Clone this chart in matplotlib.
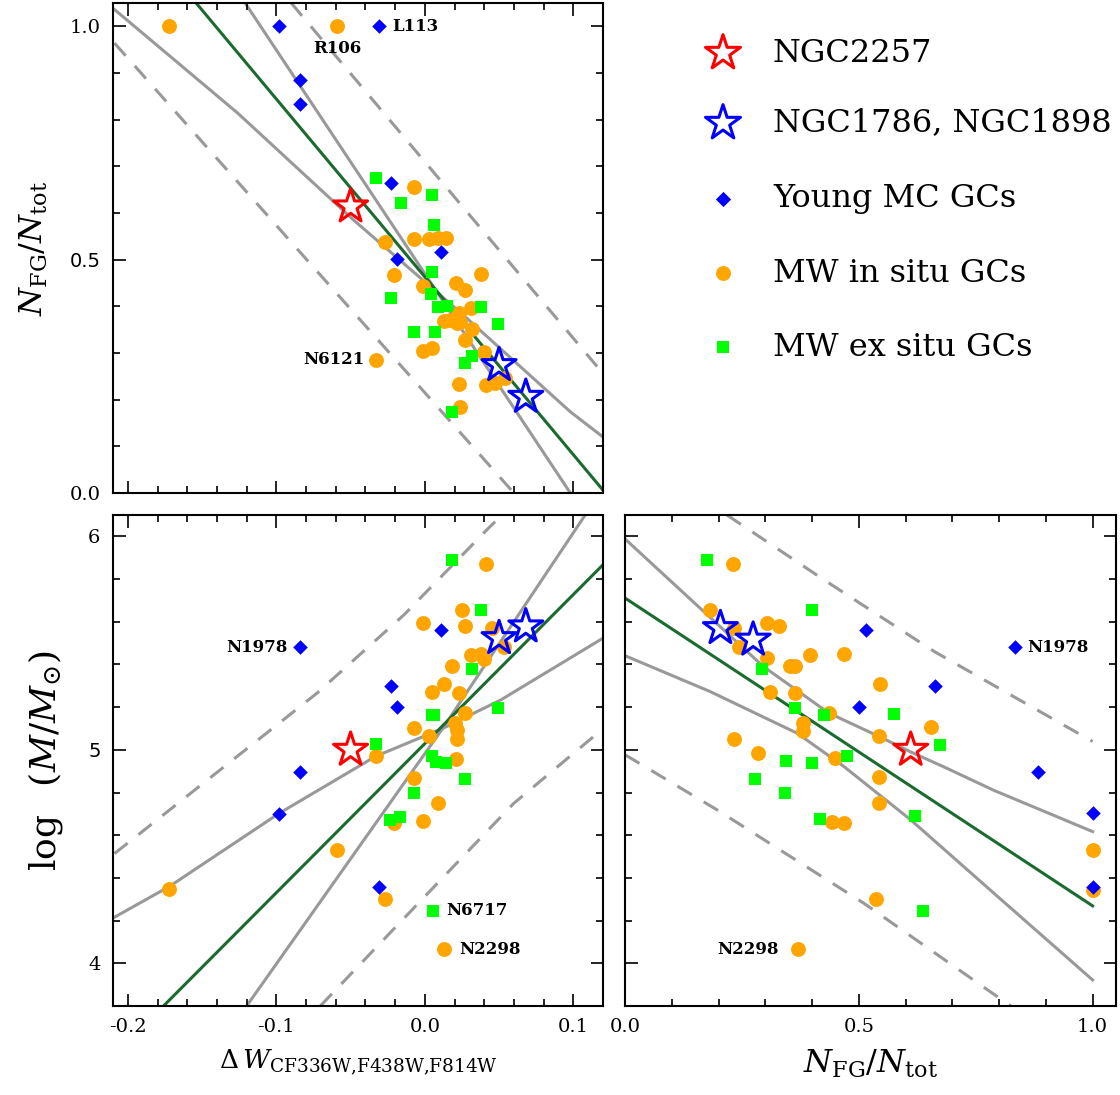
"""
Three-panel scatter: dW vs N_FG/N_tot, dW vs log M, N_FG/N_tot vs log M
"""
import matplotlib
matplotlib.use("Agg")
import matplotlib.pyplot as plt
from matplotlib.ticker import MultipleLocator

plt.rcParams["font.family"] = "DejaVu Serif"
plt.rcParams["mathtext.fontset"] = "dejavuserif"
plt.rcParams["axes.unicode_minus"] = False

ORANGE = "#FFA500"
LIME = "#00FF00"
BLUE = "#0000FF"
RED = "#FF0000"
FIT = "#1B6B2F"
BAND = "#999999"

# ── top panel: dW vs N_FG/N_tot ────────────────────────────────────────────
insitu_dw_top = [-0.172, -0.059, -0.007, -0.027, -0.007, 0.003, 0.009, 0.014, -0.021, 0.038,
                 0.021, 0.027, -0.001, 0.031, 0.023, 0.013, 0.017, 0.022, 0.024, 0.032,
                 0.027, 0.040, -0.001, 0.005, -0.033, 0.023, 0.041, 0.047, 0.054, 0.024]
insitu_f_top = [1.0, 1.0, 0.655, 0.537, 0.544, 0.544, 0.546, 0.547, 0.467, 0.469,
                0.451, 0.435, 0.444, 0.396, 0.385, 0.369, 0.370, 0.365, 0.367, 0.351,
                0.328, 0.303, 0.304, 0.310, 0.285, 0.233, 0.232, 0.236, 0.246, 0.185]
exsitu_dw_top = [-0.033, 0.005, -0.016, 0.006, 0.005, -0.023, 0.004, 0.009, 0.015, 0.038,
                 0.049, -0.007, 0.007, 0.032, 0.027, 0.018]
exsitu_f_top = [0.675, 0.639, 0.622, 0.575, 0.474, 0.417, 0.426, 0.398, 0.400, 0.399,
                0.362, 0.344, 0.344, 0.293, 0.278, 0.174]
young_dw_top = [-0.098, -0.031, -0.084, -0.084, -0.023, 0.011, -0.019]
young_f_top = [1.0, 1.0, 0.884, 0.834, 0.664, 0.517, 0.501]
red_dw, red_f, red_logm = -0.050, 0.614, 5.00
blue_dw = [0.050, 0.068]
blue_f_top = [0.274, 0.206]

fit_top_x, fit_top_y = [-0.154, 0.120], [1.05, 0.006]
band_top_a_x = [-0.209, -0.126, -0.048, 0.026, 0.098, 0.120]
band_top_a_y = [1.036, 0.814, 0.585, 0.381, 0.174, 0.120]
band_top_b_x, band_top_b_y = [-0.121, 0.098], [1.05, 0.0]
pred_top_hi_x, pred_top_hi_y = [-0.090, 0.120], [1.05, 0.256]
pred_top_lo_x, pred_top_lo_y = [-0.209, 0.060], [0.964, 0.0]

# ── bottom-left: dW vs log M ───────────────────────────────────────────────
insitu_dw_bl = [0.041, 0.025, -0.001, 0.027, 0.045, 0.053, 0.031, 0.038, 0.040, 0.018,
                0.013, 0.005, 0.023, 0.027, 0.020, 0.022, 0.022, -0.007, 0.003, -0.033,
                0.021, -0.007, 0.009, -0.001, -0.021, -0.059, -0.172, -0.027, 0.013]
insitu_m_bl = [5.870, 5.656, 5.594, 5.581, 5.573, 5.484, 5.445, 5.450, 5.425, 5.394,
               5.309, 5.273, 5.266, 5.172, 5.124, 5.092, 5.053, 5.103, 5.064, 4.970,
               4.956, 4.870, 4.751, 4.665, 4.657, 4.529, 4.346, 4.299, 4.066]
exsitu_dw_bl = [0.018, 0.038, 0.032, 0.049, 0.0045, 0.0065, -0.033, 0.0045, 0.0077, 0.014,
                0.027, -0.007, -0.0166, -0.0233, 0.0054]
exsitu_m_bl = [5.888, 5.656, 5.378, 5.195, 5.163, 5.165, 5.025, 4.970, 4.944, 4.936,
               4.861, 4.798, 4.685, 4.670, 4.247]
young_dw_bl = [-0.084, 0.011, -0.023, -0.019, -0.084, -0.098, -0.031]
young_m_bl = [5.480, 5.563, 5.300, 5.199, 4.897, 4.698, 4.357]
blue_logm_bl = [5.523, 5.578]

fit_bl_x, fit_bl_y = [-0.176, 0.120], [3.80, 5.867]
band_bl_a_x = [-0.209, -0.172, -0.098, -0.033, 0.012, 0.051, 0.120]
band_bl_a_y = [4.216, 4.360, 4.703, 4.970, 5.100, 5.233, 5.523]
band_bl_b_x, band_bl_b_y = [-0.120, 0.012, 0.108], [3.80, 5.10, 6.10]
pred_bl_hi_x = [-0.209, -0.0727, -0.0141, 0.0431, 0.052]
pred_bl_hi_y = [4.514, 5.265, 5.632, 6.040, 6.10]
pred_bl_lo_x = [-0.0704, 0.0597, 0.115, 0.120]
pred_bl_lo_y = [3.80, 4.748, 5.070, 5.100]

# ── bottom-right: N_FG/N_tot vs log M ──────────────────────────────────────
insitu_f_br = [0.232, 0.182, 0.304, 0.329, 0.234, 0.243, 0.304, 0.352, 0.363, 0.395,
               0.469, 0.546, 0.311, 0.364, 0.436, 0.381, 0.381, 0.654, 0.543, 0.234,
               0.284, 0.450, 0.543, 0.543, 0.443, 0.468, 1.0, 1.0, 0.536, 0.370]
insitu_m_br = [5.870, 5.656, 5.594, 5.578, 5.570, 5.480, 5.430, 5.395, 5.394, 5.442,
               5.450, 5.308, 5.273, 5.266, 5.172, 5.128, 5.090, 5.105, 5.063, 5.052,
               4.984, 4.961, 4.875, 4.753, 4.664, 4.659, 4.531, 4.344, 4.302, 4.066]
exsitu_f_br = [0.176, 0.399, 0.294, 0.363, 0.425, 0.575, 0.674, 0.474, 0.345, 0.399,
               0.279, 0.343, 0.416, 0.621, 0.637]
exsitu_m_br = [5.888, 5.656, 5.378, 5.195, 5.164, 5.167, 5.023, 4.972, 4.948, 4.938,
               4.863, 4.800, 4.675, 4.690, 4.245]
young_f_br = [0.516, 0.834, 0.663, 0.500, 0.884, 1.0, 1.0]
young_m_br = [5.559, 5.480, 5.300, 5.200, 4.898, 4.703, 4.359]
red_f_br = 0.611
blue_f_br = [0.204, 0.274]
blue_m_br = [5.570, 5.516]

fit_br_x, fit_br_y = [0.0, 1.0], [5.711, 4.269]
band_br_hi_x = [0.0, 0.296, 0.436, 0.543, 0.611, 0.682, 0.789, 1.0]
band_br_hi_y = [5.988, 5.390, 5.172, 5.063, 4.990, 4.920, 4.810, 4.617]
band_br_lo_x = [0.0, 0.182, 0.368, 0.468, 0.611, 0.789, 1.0]
band_br_lo_y = [5.441, 5.273, 5.078, 4.922, 4.672, 4.328, 3.922]
pred_br_hi_x, pred_br_hi_y = [0.218, 0.425, 0.661, 1.0], [6.10, 5.797, 5.461, 5.039]
pred_br_lo_x = [0.0, 0.196, 0.511, 0.796, 0.825]
pred_br_lo_y = [4.977, 4.720, 4.281, 3.844, 3.800]

W, H = 1120, 1095
fig = plt.figure(figsize=(W / 100, H / 100), dpi=100)


def px_axes(left, top, right, bottom):
    return fig.add_axes([left / W, 1 - bottom / H, (right - left) / W, (bottom - top) / H])


ax_top = px_axes(113, 3, 603, 493)
ax_bl = px_axes(113, 515, 603, 1006)
ax_br = px_axes(625, 515, 1116, 1006)

LW = 2.2
DASH = (0, (5.5, 4.5))


def draw_lines(ax, fit, bands, preds):
    for bx, by in preds:
        ax.plot(bx, by, color=BAND, lw=LW, linestyle=DASH, zorder=1)
    for bx, by in bands:
        ax.plot(bx, by, color=BAND, lw=LW, zorder=1)
    ax.plot(fit[0], fit[1], color=FIT, lw=LW, zorder=2)


def draw_points(ax, ins, exs, yng, red, blue):
    ax.scatter(ins[0], ins[1], s=115, color=ORANGE, marker="o", lw=0, zorder=3)
    ax.scatter(exs[0], exs[1], s=70, color=LIME, marker="s", lw=0, zorder=4)
    ax.scatter(yng[0], yng[1], s=55, color=BLUE, marker="D", lw=0, zorder=5)
    ax.scatter([red[0]], [red[1]], s=660, marker="*", facecolor="none",
               edgecolor=RED, lw=2.2, zorder=6)
    ax.scatter(blue[0], blue[1], s=660, marker="*", facecolor="none",
               edgecolor=BLUE, lw=2.2, zorder=6)


draw_lines(ax_top, (fit_top_x, fit_top_y),
           [(band_top_a_x, band_top_a_y), (band_top_b_x, band_top_b_y)],
           [(pred_top_hi_x, pred_top_hi_y), (pred_top_lo_x, pred_top_lo_y)])
draw_points(ax_top, (insitu_dw_top, insitu_f_top), (exsitu_dw_top, exsitu_f_top),
            (young_dw_top, young_f_top), (red_dw, red_f), (blue_dw, blue_f_top))

draw_lines(ax_bl, (fit_bl_x, fit_bl_y),
           [(band_bl_a_x, band_bl_a_y), (band_bl_b_x, band_bl_b_y)],
           [(pred_bl_hi_x, pred_bl_hi_y), (pred_bl_lo_x, pred_bl_lo_y)])
draw_points(ax_bl, (insitu_dw_bl, insitu_m_bl), (exsitu_dw_bl, exsitu_m_bl),
            (young_dw_bl, young_m_bl), (red_dw, red_logm), (blue_dw, blue_logm_bl))

draw_lines(ax_br, (fit_br_x, fit_br_y),
           [(band_br_hi_x, band_br_hi_y), (band_br_lo_x, band_br_lo_y)],
           [(pred_br_hi_x, pred_br_hi_y), (pred_br_lo_x, pred_br_lo_y)])
draw_points(ax_br, (insitu_f_br, insitu_m_br), (exsitu_f_br, exsitu_m_br),
            (young_f_br, young_m_br), (red_f_br, red_logm), (blue_f_br, blue_m_br))

# axes limits / ticks
for ax in (ax_top, ax_bl, ax_br):
    ax.tick_params(which="both", direction="in", top=True, right=True,
                   labelsize=14, pad=9, width=1.2)
    ax.tick_params(which="major", length=9)
    ax.tick_params(which="minor", length=5)
    for sp in ax.spines.values():
        sp.set_linewidth(1.5)

for ax in (ax_top, ax_bl):
    ax.set_xlim(-0.21, 0.12)
    ax.xaxis.set_minor_locator(MultipleLocator(0.02))
ax_top.set_xticks([-0.2, -0.1, 0.0, 0.1])
ax_top.tick_params(labelbottom=False)
ax_bl.set_xticks([-0.2, -0.1, 0.0, 0.1], labels=["-0.2", "-0.1", "0.0", "0.1"])

ax_top.set_ylim(0, 1.05)
ticks_top = ax_top.set_yticks([0.0, 0.5, 1.0], labels=["0.0", "0.5", "1.0"])
ticks_top[1].label1.set_fontfamily("DejaVu Sans")
ax_top.yaxis.set_minor_locator(MultipleLocator(0.1))

for ax in (ax_bl, ax_br):
    ax.set_ylim(3.8, 6.1)
    ax.yaxis.set_minor_locator(MultipleLocator(0.2))
ticks_bl = ax_bl.set_yticks([4, 5, 6], labels=["4", "5", "6"])
ticks_bl[1].label1.set_fontfamily("DejaVu Sans")
ax_br.set_yticks([4, 5, 6])
ax_br.tick_params(labelleft=False)

ax_br.set_xlim(0, 1.05)
ax_br.set_xticks([0.0, 0.5, 1.0], labels=["0.0", "0.5", "1.0"])
ax_br.xaxis.set_minor_locator(MultipleLocator(0.1))

# axis labels
ax_top.set_ylabel(r"$N_{\rm FG}/N_{\rm tot}$", fontsize=23)
ax_top.yaxis.set_label_coords(-0.129, 0.5)
ax_bl.set_ylabel(r"$\log\ \ (M/M_{\odot})$", fontsize=26)
ax_bl.yaxis.set_label_coords(-0.098, 0.5)
ax_bl.set_xlabel(r"$\Delta\,W_{\rm CF336W{,}F438W{,}F814W}$", fontsize=19)
ax_bl.xaxis.set_label_coords(0.5, -0.085)
ax_br.set_xlabel(r"$N_{\rm FG}/N_{\rm tot}$", fontsize=23)
ax_br.xaxis.set_label_coords(0.5, -0.085)

# cluster names
NAME = dict(fontsize=12, fontweight="bold", textcoords="offset points", va="center")
ax_top.annotate("R106", (-0.059, 1.0), xytext=(0, -16), ha="center", **NAME)
ax_top.annotate("L113", (-0.031, 1.0), xytext=(10, 0), ha="left", **NAME)
ax_top.annotate("N6121", (-0.033, 0.285), xytext=(-8, 0), ha="right", **NAME)
ax_bl.annotate("N1978", (-0.084, 5.48), xytext=(-9, 0), ha="right", **NAME)
ax_bl.annotate("N6717", (0.0054, 4.247), xytext=(10, 0), ha="left", **NAME)
ax_bl.annotate("N2298", (0.013, 4.066), xytext=(11, 0), ha="left", **NAME)
ax_br.annotate("N1978", (0.834, 5.48), xytext=(9, 0), ha="left", **NAME)
ax_br.annotate("N2298", (0.370, 4.066), xytext=(-14, 0), ha="right", **NAME)

# legend block (top right)
leg = px_axes(640, 0, 1120, 400)
leg.set_xlim(0, 480)
leg.set_ylim(400, 0)
leg.axis("off")
rows = [53, 123, 199, 273, 347]
names = ["NGC2257", "NGC1786, NGC1898", "Young MC GCs", "MW in situ GCs", "MW ex situ GCs"]
mx = 83
leg.scatter([mx], [rows[0]], s=700, marker="*", facecolor="none", edgecolor=RED, lw=2.2)
leg.scatter([mx], [rows[1]], s=700, marker="*", facecolor="none", edgecolor=BLUE, lw=2.2)
leg.scatter([mx], [rows[2]], s=60, marker="D", color=BLUE, lw=0)
leg.scatter([mx], [rows[3]], s=115, marker="o", color=ORANGE, lw=0)
leg.scatter([mx], [rows[4]], s=70, marker="s", color=LIME, lw=0)
for y, name in zip(rows, names):
    leg.text(133, y, name, fontsize=23, va="center", ha="left")

plt.savefig("out.png", dpi=100)
